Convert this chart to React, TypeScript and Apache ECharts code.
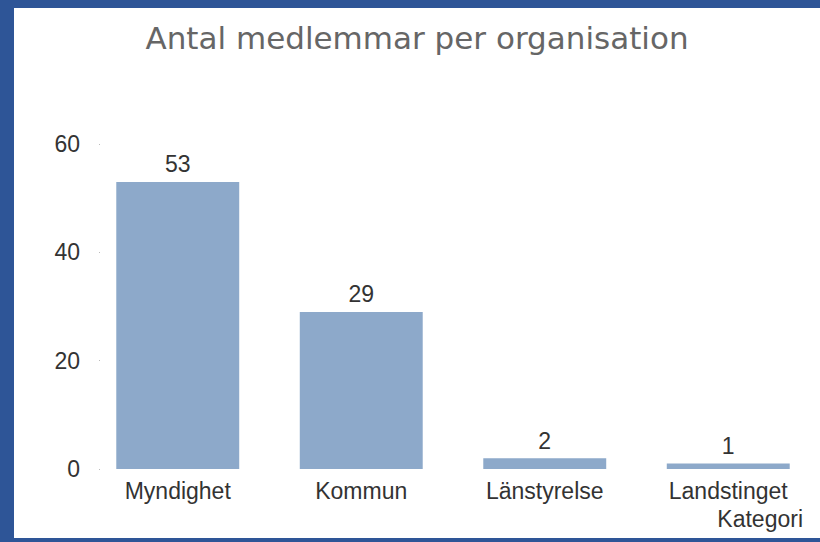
import React, { useEffect, useRef } from "react";
import * as echarts from "echarts";

const categories = ["Myndighet", "Kommun", "Länstyrelse", "Landstinget"];
const values = [53, 29, 2, 1];
const yTicks = { min: 0, max: 60, interval: 20 };
const titleText = "Antal medlemmar per organisation";
const axisTitle = "Kategori";

export default function App() {
  const ref = useRef<HTMLDivElement>(null);
  useEffect(() => {
    if (!ref.current) return;
    const chart = echarts.init(ref.current, null, { renderer: "svg" });
    chart.setOption({
      animation: false,
      backgroundColor: "#ffffff",
      title: {
        text: titleText,
        left: "center",
        top: 9,
        textStyle: {
          fontFamily: "DejaVu Sans",
          fontSize: 31,
          fontWeight: "normal",
          color: "#666666",
        },
      },
      grid: { left: 72, top: 136, width: 736, height: 325, containLabel: false },
      xAxis: {
        type: "category",
        data: categories,
        axisLine: { show: false },
        axisTick: { show: false },
        axisLabel: {
          margin: 10,
          fontFamily: "Liberation Sans",
          fontSize: 23,
          color: "#333333",
          interval: 0,
        },
      },
      yAxis: {
        type: "value",
        min: yTicks.min,
        max: yTicks.max,
        interval: yTicks.interval,
        offset: -14,
        axisLine: { show: false },
        axisTick: { show: true, length: 1, lineStyle: { color: "#bbbbbb" } },
        splitLine: { show: false },
        axisLabel: {
          margin: 20,
          fontFamily: "Liberation Sans",
          fontSize: 23,
          color: "#333333",
        },
      },
      series: [
        {
          type: "bar",
          data: values,
          barWidth: "67%",
          itemStyle: { color: "#8DA9CA" },
          label: {
            show: true,
            position: "top",
            distance: 6,
            fontFamily: "Liberation Sans",
            fontSize: 23,
            color: "#333333",
          },
        },
      ],
      graphic: [
        {
          type: "text",
          right: 17,
          top: 499,
          style: {
            text: axisTitle,
            fontFamily: "Liberation Sans",
            fontSize: 23,
            fill: "#333333",
            align: "right",
          },
        },
      ],
    });
    return () => chart.dispose();
  }, []);
  return (
    <div
      style={{
        position: "fixed",
        left: 0,
        top: 0,
        width: 820,
        height: 542,
        background: "#ffffff",
        overflow: "hidden",
      }}
    >
      <div style={{ position: "absolute", left: 0, top: 0, width: 14, height: 542, background: "#2E5597" }} />
      <div style={{ position: "absolute", left: 0, top: 0, width: 820, height: 8, background: "#2E5597" }} />
      <div style={{ position: "absolute", left: 0, top: 538, width: 820, height: 4, background: "#2E5597" }} />
      <div
        ref={ref}
        style={{
          position: "absolute",
          left: 14,
          top: 8,
          width: 806,
          height: 530,
          background: "#ffffff",
        }}
      />
    </div>
  );
}
